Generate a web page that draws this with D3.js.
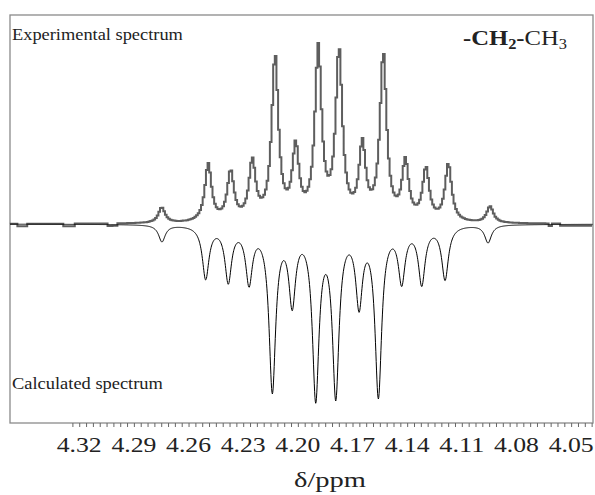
<!DOCTYPE html>
<html><head><meta charset="utf-8">
<script src="https://cdn.jsdelivr.net/npm/d3@7/dist/d3.min.js"></script>
<style>html,body{margin:0;padding:0;background:#fff;}svg{display:block;}
text{font-family:"Liberation Serif","Times New Roman",Times,"DejaVu Serif",serif;}</style>
</head><body>
<script>
// ---- data ----
const majorTicks = [4.32, 4.29, 4.26, 4.23, 4.20, 4.17, 4.14, 4.11, 4.08, 4.05];
const minorStep = 0.00375;
// experimental spectrum lines: chemical shift (ppm) and observed peak height (max = ~100)
const expShift  = [4.2747, 4.2492, 4.2369, 4.2250, 4.2125, 4.2012, 4.1888, 4.1774, 4.1646, 4.1531, 4.1410, 4.1297, 4.1174, 4.0945];
const expHeight = [9.3, 33.9, 30.6, 37.2, 95.0, 46.7, 100.6, 98.9, 47.8, 96.1, 37.2, 32.2, 33.9, 10.0];
// calculated spectrum lines (drawn downward)
const calcShift  = [4.2746, 4.2506, 4.2382, 4.2268, 4.2140, 4.2031, 4.1902, 4.1792, 4.1664, 4.1558, 4.1430, 4.1320, 4.1192, 4.0956];
const calcHeight = [10.0, 31.1, 33.5, 35.2, 94.4, 48.2, 99.6, 98.3, 49.1, 97.2, 34.8, 34.8, 31.5, 10.6];
const lineHWHM = 0.0022;
// small baseline artefacts of the experimental trace: [from ppm, to ppm, offset]
const expBaselineSteps = [[4.3536, 4.3487, -1.4], [4.3289, 4.3223, -1.4], [4.3042, 4.2987, -1.4], [4.0627, 4.0605, -1.4], [4.0560, 4.0380, -1.2]];

// ---- layout ----
const W = 595, H = 495;
const L = 10, R = 593, T = 15, B = 423, base = 224;
const svg = d3.select("body").append("svg").attr("width", W).attr("height", H);
const x = d3.scaleLinear().domain([4.358, 4.038]).range([L, R]);
const y = d3.scaleLinear().domain([0, 100]).range([base, base - 180]);

function lor(d, w) { return w * w / (d * d + w * w); }
function solveAmps(shifts, heights, w) {
  let a = heights.slice();
  for (let it = 0; it < 200; it++) {
    a = heights.map((h, i) => h - d3.sum(shifts, (s, j) => j === i ? 0 : a[j] * lor(shifts[i] - s, w)));
  }
  return a;
}
const expAmp = solveAmps(expShift, expHeight, lineHWHM);
const calcAmp = solveAmps(calcShift, calcHeight, lineHWHM);
function spec(p, shifts, amps) { return d3.sum(shifts, (s, j) => amps[j] * lor(p - s, lineHWHM)); }

// frame
svg.append("rect").attr("x", L).attr("y", T).attr("width", R - L).attr("height", B - T)
  .attr("fill", "none").attr("stroke", "#8a8a8a").attr("stroke-width", 1.3);

// experimental trace (digitised look)
const expPts = d3.range(4.358, 4.038, -0.0009).map(p => {
  let v = spec(p, expShift, expAmp);
  expBaselineSteps.forEach(s => { if (p <= s[0] && p >= s[1]) v += s[2]; });
  return [p, v];
});
svg.append("path").datum(expPts)
  .attr("d", d3.line().x(d => x(d[0])).y(d => y(d[1])).curve(d3.curveStep))
  .attr("fill", "none").attr("stroke", "#5e5e5e").attr("stroke-width", 2);

// calculated trace
const calcPts = d3.range(4.358, 4.038, -0.0002).map(p => [p, -spec(p, calcShift, calcAmp)]);
svg.append("path").datum(calcPts)
  .attr("d", d3.line().x(d => x(d[0])).y(d => y(d[1])))
  .attr("fill", "none").attr("stroke", "#000").attr("stroke-width", 1);

// axis
const minor = d3.range(-10, 74).map(k => +(4.05 + k * minorStep).toFixed(5)).filter(v => v <= 4.358 && v >= 4.038);
const ax = svg.append("g").attr("transform", `translate(0,${B})`)
  .call(d3.axisBottom(x).tickValues(minor).tickSize(4).tickFormat(""));
ax.select(".domain").remove();
ax.selectAll("line").attr("stroke", "#666");

// text placed at an anchor and stretched horizontally to the width seen in the reference
function fitted(px, py, width, anchor, size, build) {
  const g = svg.append("g");
  const t = g.append("text").attr("font-size", size).attr("fill", "#222");
  build(t);
  const w = t.node().getComputedTextLength();
  const s = width / w;
  const dx = anchor === "middle" ? -width / 2 : 0;
  g.attr("transform", `translate(${px + dx},${py}) scale(${s},1)`);
  return g;
}
majorTicks.forEach(d => fitted(x(d), 452, 45, "middle", 20, t => t.text(d.toFixed(2))));
fitted(330, 487, 72, "middle", 20, t => t.text("δ/ppm"));

// labels
fitted(12, 40, 171, "start", 16, t => t.text("Experimental spectrum"));
fitted(12, 389, 151, "start", 16, t => t.text("Calculated spectrum"));
fitted(463, 45, 104, "start", 21, t => {
  t.append("tspan").attr("font-weight", "bold").text("-CH");
  t.append("tspan").attr("font-weight", "bold").attr("font-size", 14).attr("dy", 4).text("2");
  t.append("tspan").attr("font-weight", "bold").attr("dy", -4).text("-");
  t.append("tspan").text("CH");
  t.append("tspan").attr("font-size", 14).attr("dy", 4).text("3");
});
</script>
</body></html>
